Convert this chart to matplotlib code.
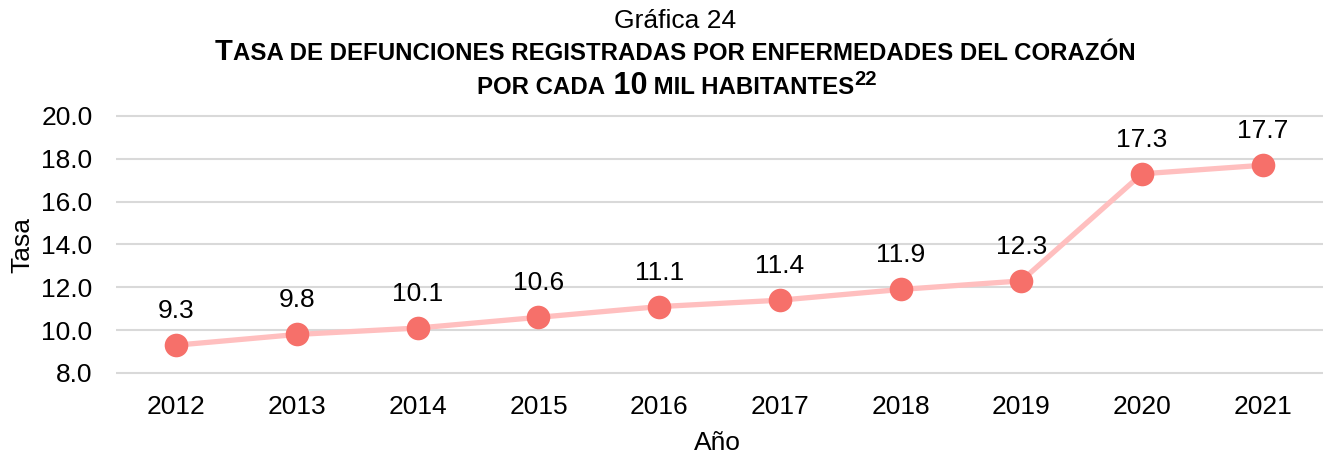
import numpy as np
import matplotlib
matplotlib.use('Agg')
import matplotlib.pyplot as plt

# datos
years = ['2012', '2013', '2014', '2015', '2016', '2017', '2018', '2019', '2020', '2021']
tasa = [9.3, 9.8, 10.1, 10.6, 11.1, 11.4, 11.9, 12.3, 17.3, 17.7]
y_ticks = [8.0, 10.0, 12.0, 14.0, 16.0, 18.0, 20.0]

W, H = 1323, 458
plt.rcParams['font.family'] = ['Liberation Sans', 'DejaVu Sans']
title_font = ['Liberation Sans Narrow', 'Liberation Sans', 'DejaVu Sans']

fig = plt.figure(figsize=(W / 100, H / 100), dpi=100)

# ejes: y=20 en px 116, y=8 en px 373
px_unit = (373 - 116) / 12.0
y_lo, y_hi = 7.9, 20.1
ax_top = 116 - (y_hi - 20) * px_unit
ax_bot = 373 + (8 - y_lo) * px_unit
ax = fig.add_axes([116 / W, 1 - ax_bot / H, 1207 / W, (ax_bot - ax_top) / H])

x = np.arange(len(years))
ax.plot(x, tasa, color='#FFBFBF', lw=3.8, zorder=2, solid_capstyle='round')
ax.plot(x, tasa, 'o', ms=17, color='#F6706A', mec='none', zorder=3)
for xi, v in zip(x, tasa):
    ax.annotate(f'{v:.1f}', (xi, v), xytext=(0, 24.5), textcoords='offset points',
                ha='center', va='center', fontsize=19)

ax.set_xlim(-0.5, len(years) - 0.5)
ax.set_ylim(y_lo, y_hi)
ax.set_yticks(y_ticks)
ax.set_yticklabels([f'{t:.1f}' for t in y_ticks])
ax.set_xticks(x)
ax.set_xticklabels(years)
ax.tick_params(axis='both', length=0, labelsize=19)
ax.tick_params(axis='x', pad=14.5)
ax.tick_params(axis='y', pad=17)
for s in ax.spines.values():
    s.set_visible(False)
ax.grid(axis='y', color='#D9D9D9', lw=1.5)
ax.set_axisbelow(True)

fig.text(717 / W, 1 - 443 / H, 'Año', ha='center', va='center', fontsize=19)
fig.text(22 / W, 1 - 245 / H, 'Tasa', ha='center', va='center', fontsize=19, rotation=90)

# titulo
title_cx = 675
fig.text(title_cx / W, 1 - 28 / H, 'Gráfica 24', ha='center', va='baseline', fontsize=19)

renderer = fig.canvas.get_renderer()


def rich_line(pieces, cx, y_base):
    # pieces: (texto, tamano, desplazamiento vertical en px), centrado en cx
    texts = []
    for txt, size, dy in pieces:
        t = fig.text(0, 1 - (y_base - dy) / H, txt, fontsize=size, fontweight='bold',
                     family=title_font, ha='left', va='baseline')
        texts.append(t)
    widths = [t.get_window_extent(renderer).width for t in texts]
    xp = cx - sum(widths) / 2
    for t, w in zip(texts, widths):
        t.set_x(xp / W)
        xp += w


rich_line([('T', 21, 0),
           ('ASA DE DEFUNCIONES REGISTRADAS POR ENFERMEDADES DEL CORAZÓN', 17.3, 0)], title_cx, 60)
rich_line([('POR CADA', 17.3, 0), (' 10', 22, 0), (' MIL HABITANTES', 17.3, 0), ('22', 14.5, 9)],
          title_cx + 2, 94)

fig.savefig('out.png', dpi=100)
